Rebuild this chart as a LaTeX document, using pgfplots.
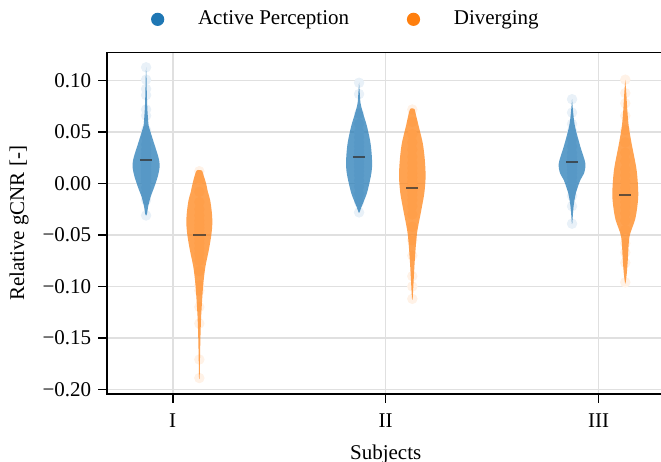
\documentclass[border=0pt]{standalone}
\usepackage{fontspec}
\setmainfont{Liberation Serif}
\usepackage{pgfplots}
\usepackage{pgfplotstable}
\pgfplotsset{compat=1.18}

\definecolor{cBlue}{HTML}{1F77B4}
\definecolor{cOrange}{HTML}{FF7F0E}
\newcommand\fsz{\fontsize{10.5}{12.6}\selectfont}

% Violin outlines: y value and signed half width (category units),
% right edge downwards, then left edge upwards
\pgfplotstableread{
y w
0.113 0
0.100 0.0023
0.088 0.0033
0.072 0.0061
0.062 0.0094
0.056 0.0122
0.049 0.0225
0.039 0.0376
0.030 0.0516
0.023 0.0610
0.016 0.0634
0.007 0.0549
-0.003 0.0390
-0.013 0.0211
-0.0225 0.0094
-0.029 0.0047
-0.031 0
-0.029 -0.0047
-0.0225 -0.0094
-0.013 -0.0211
-0.003 -0.0390
0.007 -0.0549
0.016 -0.0634
0.023 -0.0610
0.030 -0.0516
0.039 -0.0376
0.049 -0.0225
0.056 -0.0122
0.062 -0.0094
0.072 -0.0061
0.088 -0.0033
0.100 -0.0023
0.113 0
}\shapeAI
\pgfplotstableread{
y w
0.0125 0.0131
0.0003 0.0315
-0.008 0.0400
-0.016 0.0507
-0.028 0.0587
-0.0386 0.0610
-0.050 0.0563
-0.0645 0.0446
-0.081 0.0282
-0.097 0.0188
-0.110 0.0141
-0.129 0.0085
-0.146 0.0056
-0.162 0.0038
-0.178 0.0023
-0.189 0.0015
-0.189 -0.0015
-0.178 -0.0023
-0.162 -0.0038
-0.146 -0.0056
-0.129 -0.0085
-0.110 -0.0141
-0.097 -0.0188
-0.081 -0.0282
-0.0645 -0.0446
-0.050 -0.0563
-0.0386 -0.0610
-0.028 -0.0587
-0.016 -0.0507
-0.008 -0.0400
0.0003 -0.0315
0.0125 -0.0131
0.0125 0.0131
}\shapeDI
\pgfplotstableread{
y w
0.098 0
0.0878 0.0033
0.078 0.0070
0.0683 0.0188
0.0553 0.0376
0.039 0.0540
0.026 0.0601
0.0164 0.0610
0.0067 0.0549
-0.0094 0.0366
-0.0225 0.0117
-0.0283 0.0015
-0.0283 -0.0015
-0.0225 -0.0117
-0.0094 -0.0366
0.0067 -0.0549
0.0164 -0.0610
0.026 -0.0601
0.039 -0.0540
0.0553 -0.0376
0.0683 -0.0188
0.078 -0.0070
0.0878 -0.0033
0.098 0
}\shapeAII
\pgfplotstableread{
y w
0.0722 0.0108
0.0553 0.0305
0.039 0.0493
0.023 0.0587
0.0067 0.0624
-0.0094 0.0563
-0.0257 0.0423
-0.0483 0.0221
-0.0743 0.0117
-0.1002 0.0047
-0.1119 0.0015
-0.1119 -0.0015
-0.1002 -0.0047
-0.0743 -0.0117
-0.0483 -0.0221
-0.0257 -0.0423
-0.0094 -0.0563
0.0067 -0.0624
0.023 -0.0587
0.039 -0.0493
0.0553 -0.0305
0.0722 -0.0108
0.0722 0.0108
}\shapeDII
\pgfplotstableread{
y w
0.082 0
0.0683 0.0056
0.0553 0.0141
0.0359 0.0390
0.0197 0.0624
0.010 0.0563
0.0035 0.0390
-0.0094 0.0178
-0.0225 0.0070
-0.032 0.0033
-0.0393 0
-0.032 -0.0033
-0.0225 -0.0070
-0.0094 -0.0178
0.0035 -0.0390
0.010 -0.0563
0.0197 -0.0624
0.0359 -0.0390
0.0553 -0.0141
0.0683 -0.0056
0.082 0
}\shapeAIII
\pgfplotstableread{
y w
0.1007 0
0.0878 0.0047
0.0715 0.0094
0.0553 0.0164
0.039 0.0296
0.0132 0.0531
-0.0094 0.0610
-0.0225 0.0563
-0.0354 0.0455
-0.0516 0.0197
-0.0743 0.0117
-0.0872 0.0070
-0.0963 0.0015
-0.0963 -0.0015
-0.0872 -0.0070
-0.0743 -0.0117
-0.0516 -0.0197
-0.0354 -0.0455
-0.0225 -0.0563
-0.0094 -0.0610
0.0132 -0.0531
0.039 -0.0296
0.0553 -0.0164
0.0715 -0.0094
0.0878 -0.0047
0.1007 0
}\shapeDIII

% Individual observations
\pgfplotstableread{
v
0.113
0.101
0.092
0.086
0.072
0.066
0.052
0.045
0.038
0.033
0.029
0.026
0.024
0.022
0.021
0.019
0.017
0.014
0.012
0.010
0.008
0.005
0.002
-0.004
-0.009
-0.016
-0.031
}\ptsAI
\pgfplotstableread{
v
0.012
0.004
-0.008
-0.018
-0.025
-0.031
-0.036
-0.040
-0.043
-0.046
-0.049
-0.051
-0.054
-0.058
-0.063
-0.068
-0.075
-0.085
-0.099
-0.104
-0.120
-0.136
-0.171
-0.189
}\ptsDI
\pgfplotstableread{
v
0.098
0.087
0.068
0.058
0.050
0.045
0.040
0.036
0.032
0.029
0.027
0.025
0.022
0.019
0.016
0.012
0.008
0.003
-0.003
-0.010
-0.018
-0.028
}\ptsAII
\pgfplotstableread{
v
0.072
0.060
0.048
0.040
0.033
0.026
0.020
0.015
0.010
0.006
0.002
-0.002
-0.004
-0.007
-0.011
-0.016
-0.022
-0.030
-0.042
-0.055
-0.070
-0.090
-0.100
-0.112
}\ptsDII
\pgfplotstableread{
v
0.082
0.069
0.058
0.051
0.043
0.036
0.030
0.026
0.023
0.021
0.020
0.018
0.016
0.013
0.010
0.006
0.001
-0.005
-0.012
-0.022
-0.039
}\ptsAIII
\pgfplotstableread{
v
0.101
0.088
0.078
0.066
0.052
0.040
0.030
0.022
0.014
0.008
0.002
-0.004
-0.008
-0.011
-0.014
-0.018
-0.023
-0.029
-0.036
-0.045
-0.058
-0.067
-0.077
-0.096
}\ptsDIII

% one violin: centre, outline table, colour
\newcommand\violin[3]{%
  \addplot[on layer=axis descriptions, fill=#3, fill opacity=0.72,
    draw=none, smooth, tension=0.5, forget plot]
    table[x expr={#1+\thisrow{w}}, y=y]{#2};
}
% observations along the violin centre (pale dots beneath the violins)
\newcommand\points[3]{%
  \addplot[only marks, mark=*, mark size=2.4pt,
    mark options={fill=#3!10, draw=#3!10}, forget plot]
    table[x expr={#1}, y=v]{#2};
}

\begin{document}
\begin{tikzpicture}
\begin{axis}[
  set layers,
  scale only axis, width=279pt, height=170.9pt,
  xmin=-0.31, xmax=2.31, ymin=-0.2048, ymax=0.1274,
  xtick={0,1,2}, xticklabels={I,II,III},
  ytick={-0.2,-0.15,-0.1,-0.05,0,0.05,0.1},
  yticklabels={−0.20,−0.15,−0.10,−0.05,0.00,0.05,0.10},
  tick pos=left, tick align=outside, major tick length=4.2pt,
  every tick/.style={black, line width=0.8pt},
  axis line style={line width=0.9pt},
  grid=major, major grid style={black!12, line width=0.8pt},
  tick label style={font=\fsz},
  xticklabel style={yshift=-2pt},
  label style={font=\fsz},
  xlabel={Subjects}, ylabel={Relative gCNR [-]},
  xlabel style={at={(axis description cs:0.5,-0.177)}, anchor=center},
  ylabel style={at={(axis description cs:-0.157,0.5)}, anchor=center},
  legend columns=2,
  legend style={at={(rel axis cs:0.0781,1.097)}, anchor=west, draw=none,
    fill=none, inner sep=0pt, font=\fsz, nodes={inner sep=0pt},
    /tikz/every even column/.append style={column sep=28.7pt}},
  legend image code/.code={\path (-3.3pt,0pt) (20pt,0pt);
    \path[#1, draw opacity=0] (0pt,0pt) circle (3.3pt);},
]
\addlegendimage{fill=cBlue}
\addlegendentry{Active Perception}
\addlegendimage{fill=cOrange}
\addlegendentry{Diverging}

\points{-0.125}{\ptsAI}{cBlue}
\points{0.125}{\ptsDI}{cOrange}
\points{0.875}{\ptsAII}{cBlue}
\points{1.125}{\ptsDII}{cOrange}
\points{1.875}{\ptsAIII}{cBlue}
\points{2.125}{\ptsDIII}{cOrange}

\violin{-0.125}{\shapeAI}{cBlue}
\violin{0.125}{\shapeDI}{cOrange}
\violin{0.875}{\shapeAII}{cBlue}
\violin{1.125}{\shapeDII}{cOrange}
\violin{1.875}{\shapeAIII}{cBlue}
\violin{2.125}{\shapeDIII}{cOrange}

% medians
\pgfplotsset{median/.style={on layer=axis foreground, black!80, opacity=0.75, line width=1pt, forget plot}}
\addplot[median] coordinates {(-0.154,0.0226) (-0.096,0.0226)};
\addplot[median] coordinates {(0.096,-0.050) (0.154,-0.050)};
\addplot[median] coordinates {(0.846,0.026) (0.904,0.026)};
\addplot[median] coordinates {(1.096,-0.0043) (1.154,-0.0043)};
\addplot[median] coordinates {(1.846,0.021) (1.904,0.021)};
\addplot[median] coordinates {(2.096,-0.0111) (2.154,-0.0111)};
\end{axis}
\pgfresetboundingbox
\useasboundingbox (-53.35pt,-33.85pt) rectangle (277.15pt,197.15pt);
\end{tikzpicture}
\end{document}
